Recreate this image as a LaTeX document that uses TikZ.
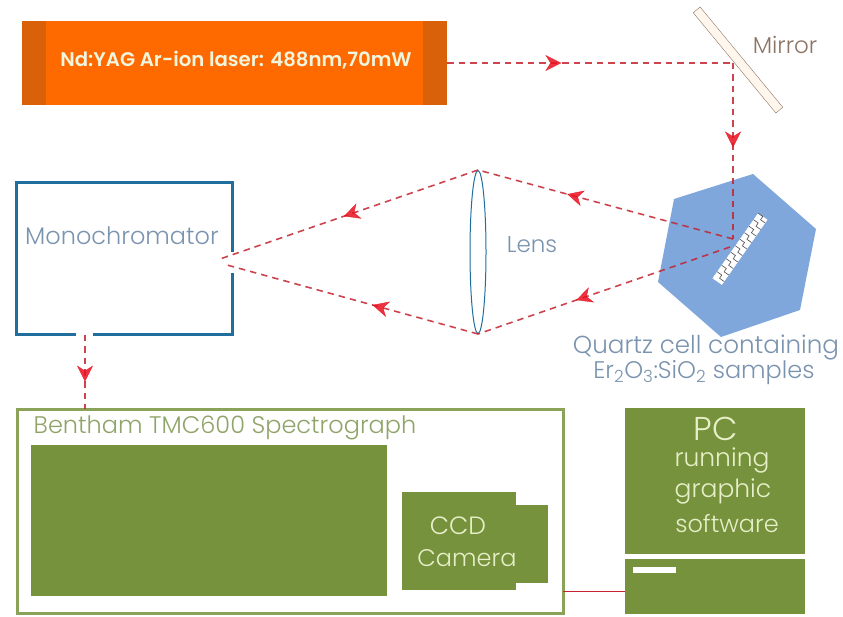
\documentclass[tikz,border=0pt]{standalone}
\usepackage{fontspec}
\setmainfont{Poppins}[UprightFont=* Light, BoldFont=* SemiBold]
\usetikzlibrary{arrows.meta,calc,decorations.markings,shapes.geometric}
\definecolor{beamred}{HTML}{C4232F}
\definecolor{tipred}{HTML}{E8101F}
\definecolor{laserorange}{HTML}{FF6A00}
\definecolor{laserdark}{HTML}{D8610A}
\definecolor{monoblue}{HTML}{1F6E9E}
\definecolor{cellblue}{HTML}{7FA7DC}
\definecolor{textblue}{HTML}{7A93AE}
\definecolor{olive}{HTML}{76923C}
\definecolor{olivetext}{HTML}{8FA468}
\definecolor{palegreen}{HTML}{E6EFC8}
\definecolor{mirrorbrown}{HTML}{8C7565}
\tikzset{
	box/.style={inner sep=0pt, outer sep=0pt, anchor=north west},
	beam/.style={draw=beamred, opacity=.85, line width=1.6pt, dash pattern=on 6.5pt off 5pt,
		postaction={decorate}, decoration={markings, mark=at position #1 with {\arrow[tipred,solid,line width=.4pt]{Stealth[length=16pt,width=16pt,inset=5pt]}}}},
	caption/.style={inner sep=0pt, font=\fontsize{#1}{#1}\selectfont},
	greencaption/.style={caption=#1, text=palegreen},
	bluecaption/.style={caption=#1, text=textblue}
}
\begin{document}
\begin{tikzpicture}[x=1pt,y=-1pt]
		\useasboundingbox (0,0) rectangle (843,617);
		\node (laser) [box, fill=laserorange, minimum width=425pt, minimum height=84pt] at (22,21) {};
		\node (laserleft) [box, fill=laserdark, minimum width=24pt, minimum height=84pt] at (22,21) {};
		\node (laserright) [box, fill=laserdark, minimum width=24pt, minimum height=84pt] at (423,21) {};
		\node (lasertext) [inner sep=0pt, text=palegreen!60!white, font=\fontsize{19.7}{19.7}\bfseries] at (236,60) {Nd:YAG Ar-ion laser: 488nm,70mW};
		\node (mirror) [draw=mirrorbrown, fill=white!93!orange, minimum width=130pt, minimum height=9pt, inner sep=0pt, rotate=-50.5] at (738,60) {};
		\node (mirrortext) [caption=23, text=mirrorbrown] at (785,45) {Mirror};
		\coordinate (hit) at (733,63);
		\fill[cellblue] (753,174) -- (816,229) -- (800,310) -- (721,337) -- (658,282) -- (674,199) -- cycle;
		\node (sample) [draw=white, fill=white, minimum width=79pt, minimum height=11pt, inner sep=0pt, rotate=55] at (740,249) {};
		\foreach \t in {.05,.15,...,.95}
		{
			\draw[black!70, line width=.6pt] ($(sample.south west)!\t!(sample.south east)$) -- ($(sample.west)!\t!(sample.east)$);
			\draw[black!70, line width=.6pt] ($(sample.west)!\t!(sample.east)$) -- ($(sample.west)!\t+.05!(sample.east)$) -- ($(sample.north west)!\t+.05!(sample.north east)$);
		}
		\coordinate (spotin) at (733,239);
		\coordinate (spotout) at (730,247);
		\node (lens) [draw=monoblue, line width=1pt, fill=white, ellipse, minimum width=16pt, minimum height=163pt, inner sep=0pt] at (478,252) {};
		\node (lenstext) [bluecaption=23] at (532,245) {Lens};
		\node (mono) [box, draw=monoblue, line width=3pt, minimum width=216pt, minimum height=152pt] at (16,183) {};
		\draw[white, line width=5pt] (232,252) -- (232,273);
		\draw[white, line width=5pt] (76,335) -- (93,335);
		\node (monotext) [bluecaption=24] at (122,236) {Monochromator};
		\coordinate (monoin) at (220,259);
		\coordinate (monoinb) at (227,265);
		\coordinate (monoout) at (85,335);
		\node (quartz) [bluecaption=24.6] at (706,348) {Quartz cell containing};
		\node (samples) [bluecaption=24] at (704,373) {Er\textsubscript{2}O\textsubscript{3}:SiO\textsubscript{2} samples};
		\node (spectro) [box, draw=olive!85!white, line width=3pt, minimum width=546pt, minimum height=204pt] at (17,409) {};
		\node (spectrotext) [caption=24, text=olivetext] at (225,428) {Bentham TMC600 Spectrograph};
		\node (grating) [box, fill=olive, minimum width=356pt, minimum height=151pt] at (31,445) {};
		\node (ccdlens) [box, fill=olive, minimum width=32pt, minimum height=78pt] at (516,505) {};
		\node (ccd) [box, fill=olive, minimum width=114pt, minimum height=98pt] at (402,492) {};
		\node (ccdtext) [greencaption=25] at (458,526) {CCD};
		\node (cameratext) [greencaption=24] at (467,558) {Camera};
		\node (pc) [box, fill=olive, minimum width=180pt, minimum height=146pt] at (625,408) {};
		\node (pcbase) [box, fill=olive, minimum width=180pt, minimum height=55pt] at (625,559) {};
		\node (slot) [box, fill=white, minimum width=43pt, minimum height=6pt] at (633,567) {};
		\node (pctext) [greencaption=33] at (716,429) {PC};
		\node (runtext) [greencaption=25] at (722,460) {running};
		\node (graphtext) [greencaption=25] at (723,491) {graphic};
		\node (softtext) [greencaption=24] at (727,524) {software};
		\coordinate (cable) at (563,591);
		\draw[beam=.4] (laser.east) -- (hit);
		\draw[beam=.48] (hit) -- (spotin);
		\draw[beam=.65] (spotin) -- (lens.north);
		\draw[beam=.61] (spotout) -- (lens.south);
		\draw[beam=.52] (lens.north) -- (monoin);
		\draw[beam=.42] (lens.south) -- (monoinb);
		\draw[beam=.63] (monoout) -- (monoout |- spectro.north);
		\draw[beamred, line width=.9pt] (cable) -- (cable -| pcbase.west);
		\end{tikzpicture}
\end{document}
